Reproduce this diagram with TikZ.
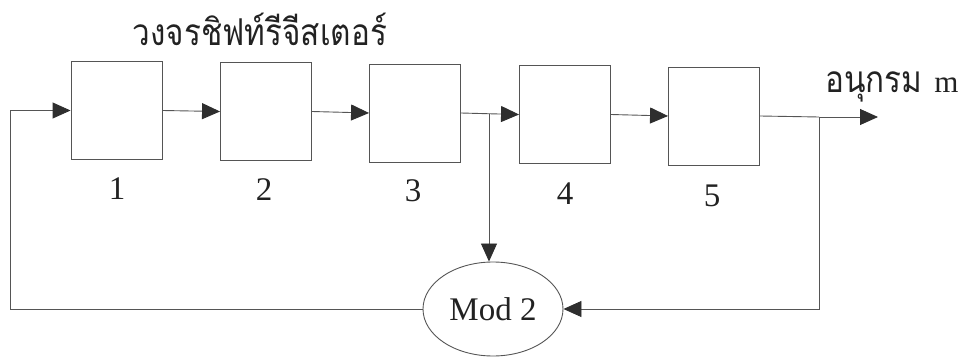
\documentclass[tikz,border=0pt]{standalone}
\usepackage{fontspec}
\setmainfont{Liberation Serif}
\newfontfamily\thaifont[Script=Thai,FakeStretch=0.85]{Loma}
\usetikzlibrary{arrows.meta,shapes.geometric}
\definecolor{wire}{HTML}{555555}
\definecolor{tipfill}{HTML}{2E2E2E}
\definecolor{ink}{HTML}{222222}
\tikzset{
  stage/.style={draw=wire, line width=0.9pt, minimum width=91pt, minimum height=98pt, inner sep=0pt},
  wireline/.style={draw=wire, line width=0.9pt},
  flow/.style={wireline, -{Triangle[length=18pt,width=16pt,fill=tipfill,color=tipfill]}},
  digit/.style={font=\fontsize{33}{36}\selectfont, text=ink, inner sep=0pt},
  modbox/.style={ellipse, draw=wire, line width=0.9pt, minimum width=140pt, minimum height=94pt, inner sep=0pt, font=\fontsize{33}{36}\selectfont, text=ink},
  heading/.style={font=\thaifont\fontsize{37}{40}\selectfont, text=ink, inner sep=0pt}
}
\begin{document}
\begin{tikzpicture}[x=1pt, y=-1pt]
\useasboundingbox (0,0) rectangle (964,358);
% shift-register stages
\node[stage] (b1) at (116.5,110.5) {};
\node[stage] (b2) at (266,111.5) {};
\node[stage] (b3) at (415,113) {};
\node[stage] (b4) at (565,114.5) {};
\node[stage] (b5) at (714,116) {};
% stage numbers
\node[digit] (n1) at (117,189) {1};
\node[digit] (n2) at (264,190) {2};
\node[digit] (n3) at (413,191) {3};
\node[digit] (n4) at (565,194) {4};
\node[digit] (n5) at (712,196) {5};
% modulo-2 adder
\node[modbox] (mod) at (493,309) {Mod 2};
% captions
\node[heading, anchor=base] (title) at (260,46) {วงจรชิฟท์รีจีสเตอร์};
\node[font=\fontsize{31}{34}\selectfont, text=ink, inner sep=0pt, anchor=base west] (outlbl) at (825,93) {{\thaifont\fontsize{37}{40}\selectfont อนุกรม}\hspace{12pt}m};
% tap points and free ends
\coordinate (t3) at (489,113.75);
\coordinate (t5) at (819,117);
\coordinate (outend) at (878,117);
\coordinate (cL) at (10,309);
% forward chain
\draw[flow] (b1.east) -- (b2.west);
\draw[flow] (b2.east) -- (b3.west);
\draw[wireline] (b3.east) -- (t3);
\draw[flow] (t3) -- (b4.west);
\draw[flow] (b4.east) -- (b5.west);
\draw[wireline] (b5.east) -- (t5);
\draw[flow] (t5) -- (outend);
% feedback taps into the adder
\draw[flow] (t3) -- (t3 |- mod.north);
\draw[flow] (t5) |- (mod.east);
% adder output back to the first stage
\draw[flow] (mod.west) -- (cL) |- (b1.west);
\end{tikzpicture}
\end{document}
